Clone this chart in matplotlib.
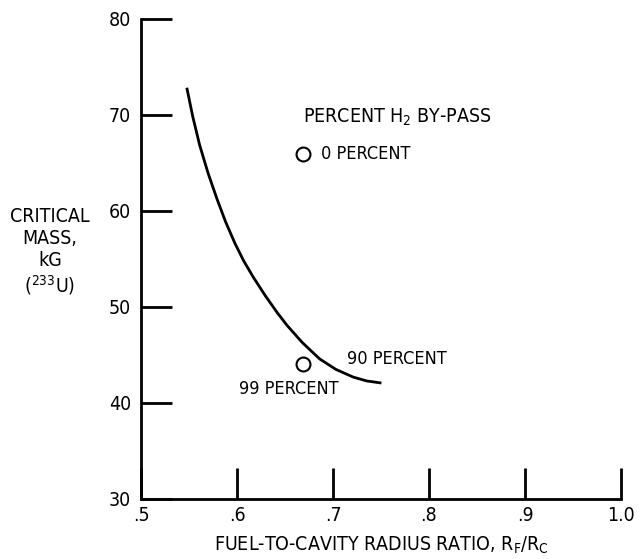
import matplotlib.pyplot as plt

# curve
ratio = [0.548, 0.554, 0.561, 0.570, 0.579, 0.588, 0.598, 0.607, 0.617,
         0.630, 0.642, 0.652, 0.668, 0.686, 0.703, 0.721, 0.735, 0.749]
mass = [72.7, 69.8, 66.9, 63.9, 61.3, 58.9, 56.6, 54.8, 53.1,
        51.1, 49.4, 48.1, 46.3, 44.6, 43.5, 42.7, 42.3, 42.1]

# measured points
pt_ratio = [0.669, 0.669]
pt_mass = [65.9, 44.1]

x_ticks = [0.5, 0.6, 0.7, 0.8, 0.9, 1.0]
x_labels = ['.5', '.6', '.7', '.8', '.9', '1.0']
y_ticks = [30, 40, 50, 60, 70, 80]

plt.rcParams['font.family'] = 'DejaVu Sans'
plt.rcParams['font.stretch'] = 'condensed'
plt.rcParams['mathtext.fontset'] = 'custom'
plt.rcParams['mathtext.rm'] = 'DejaVu Sans:stretch=condensed'
plt.rcParams['mathtext.default'] = 'rm'
fs = 14

fig = plt.figure(figsize=(6.44, 5.59), dpi=100)
ax = fig.add_axes([141 / 644, 60 / 559, 480 / 644, 480 / 559])

ax.plot(ratio, mass, color='black', lw=2)
ax.plot(pt_ratio, pt_mass, 'o', ms=10, mfc='white', mec='black', mew=1.5)

ax.set_xlim(0.5, 1.0)
ax.set_ylim(30, 80)
ax.set_xticks(x_ticks)
ax.set_xticklabels(x_labels, fontsize=fs)
ax.set_yticks(y_ticks)
ax.set_yticklabels([str(v) for v in y_ticks], fontsize=fs)
ax.tick_params(direction='in', length=22, width=2, pad=5)
ax.tick_params(axis='y', pad=7)

for side in ['top', 'right']:
    ax.spines[side].set_visible(False)
for side in ['left', 'bottom']:
    ax.spines[side].set_linewidth(2)

ax.text(0.669, 69.8, 'PERCENT H$_2$ BY-PASS', fontsize=fs, va='center')
ax.text(0.687, 65.9, '0 PERCENT', fontsize=13, va='center')
ax.text(0.602, 41.5, '99 PERCENT', fontsize=13, va='center')
ax.text(0.715, 44.6, '90 PERCENT', fontsize=13, va='center')

ax.set_xlabel('FUEL-TO-CAVITY RADIUS RATIO, R$_F$/R$_C$', fontsize=fs,
              labelpad=7)
fig.text(50 / 644, 1 - 252 / 559, 'CRITICAL\nMASS,\nkG\n($^{233}$U)',
         fontsize=fs, ha='center', va='center', linespacing=1.2)

fig.savefig('out.png', dpi=100)
